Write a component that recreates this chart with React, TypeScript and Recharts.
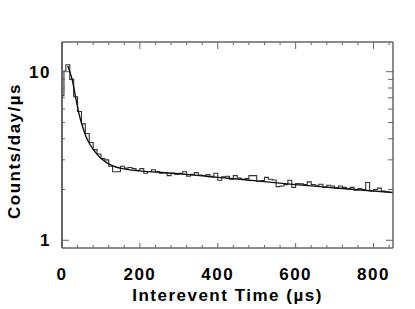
import { ComposedChart, Line, XAxis, YAxis } from 'recharts'

// histogram bins (start time in µs) and counts/day/µs
const binStart = [
  0, 5, 10, 20, 30, 40, 50, 60, 70, 80, 90, 100, 110, 120, 130, 140, 150, 160, 170, 180,
  190, 200, 210, 220, 230, 240, 250, 260, 270, 280, 290, 300, 310, 320, 330, 340, 350, 360,
  370, 380, 390, 400, 410, 420, 430, 440, 450, 460, 470, 480, 490, 500, 510, 520, 530, 540,
  550, 560, 570, 580, 590, 600, 610, 620, 630, 640, 650, 660, 670, 680, 690, 700, 710, 720,
  730, 740, 750, 760, 770, 780, 790, 800, 810, 820, 830, 840, 850,
]
const counts = [
  7.2, 10.1, 11.0, 9.0, 7.1, 5.8, 4.9, 4.3, 3.8, 3.45, 3.25, 3.05, 3.0, 2.75, 2.55, 2.55, 2.75, 2.68, 2.7, 2.66,
  2.6, 2.66, 2.5, 2.56, 2.62, 2.55, 2.5, 2.52, 2.42, 2.5, 2.46, 2.5, 2.55, 2.4, 2.46, 2.52, 2.44, 2.42,
  2.45, 2.4, 2.5, 2.27, 2.38, 2.4, 2.3, 2.42, 2.34, 2.3, 2.32, 2.42, 2.42, 2.24, 2.26, 2.36, 2.3, 2.28,
  2.08, 2.1, 2.14, 2.27, 2.06, 2.17, 2.16, 2.14, 2.22, 2.14, 2.12, 2.15, 2.06, 2.12, 2.1, 2.04, 2.1, 2.06,
  2.02, 2.06, 1.98, 2.03, 2.0, 2.2, 1.96, 2.0, 2.04, 1.96, 1.94, 1.92, 1.92,
]

// fitted curve
const fitTime = [15, 20, 26, 35, 43, 52, 61, 72, 86, 100, 112, 125, 138, 160, 198, 250, 300, 353, 400, 450, 525, 600, 697, 775, 850]
const fitValue = [10.8, 10.0, 9.0, 7.05, 5.7, 4.8, 4.16, 3.7, 3.32, 3.07, 2.92, 2.8, 2.72, 2.65, 2.58, 2.53, 2.48, 2.42, 2.36, 2.31, 2.22, 2.14, 2.05, 1.98, 1.92]

const xTicks = [0, 40, 80, 120, 160, 200, 240, 280, 320, 360, 400, 440, 480, 520, 560, 600, 640, 680, 720, 760, 800, 840]
const xLabels = [0, 200, 400, 600, 800]
const yTicks = [1, 2, 3, 4, 5, 6, 7, 8, 9, 10]
const yLabels = [1, 10]

const hist = binStart.map((t, i) => ({ t, v: counts[i] }))
const fit = fitTime.map((t, i) => ({ t, v: fitValue[i] }))

const FONT = '"Liberation Sans", Arial, sans-serif'
const AXIS = '#666'

const textStyle = {
  fontFamily: FONT,
  fontWeight: 700,
  fontSize: 17,
  letterSpacing: 1.5,
  fill: '#000',
}

const BottomTick = ({ x, y, payload }: any) => {
  const major = xLabels.includes(payload.value)
  return (
    <g>
      <line x1={x} x2={x} y1={y} y2={y - (major ? 5 : 3)} stroke={AXIS} />
      {major && (
        <text x={x} y={y + 32} textAnchor="middle" style={textStyle}>
          {payload.value}
        </text>
      )}
    </g>
  )
}

const TopTick = ({ x, y, payload }: any) => {
  const major = xLabels.includes(payload.value)
  return <line x1={x} x2={x} y1={y} y2={y + (major ? 7 : 3)} stroke={AXIS} />
}

const LeftTick = ({ x, y, payload }: any) => {
  const major = yLabels.includes(payload.value)
  return (
    <g>
      <line x1={x} x2={x + (major ? 7 : 3)} y1={y} y2={y} stroke={AXIS} />
      {major && (
        <text x={x - 11} y={y + 6} textAnchor="end" style={textStyle}>
          {payload.value}
        </text>
      )}
    </g>
  )
}

const RightTick = ({ x, y, payload }: any) => {
  const major = yLabels.includes(payload.value)
  return <line x1={x} x2={x - (major ? 7 : 5)} y1={y} y2={y} stroke={AXIS} />
}

const XTitle = ({ viewBox }: any) => (
  <text x={viewBox.x + viewBox.width / 2} y={viewBox.y + 53} textAnchor="middle" style={textStyle}>
    Interevent Time (µs)
  </text>
)

const YTitle = () => (
  <text x={14.5} y={151} transform="rotate(-90, 14.5, 151)" textAnchor="middle" dominantBaseline="central" style={textStyle}>
    Counts/day/µs
  </text>
)

export default function App() {
  return (
    <div style={{ position: 'absolute', left: 0, top: 0, width: 415, height: 309, background: '#fff' }}>
      <ComposedChart width={415} height={309} margin={{ top: 0, right: 0, bottom: 0, left: 0 }}>
        <XAxis
          xAxisId="bottom"
          type="number"
          dataKey="t"
          domain={[0, 850]}
          allowDataOverflow
          ticks={xTicks}
          interval={0}
          height={61}
          tickSize={0}
          tickMargin={0}
          tick={<BottomTick />}
          axisLine={{ stroke: AXIS, strokeWidth: 1.5 }}
          label={{ content: <XTitle /> }}
        />
        <XAxis
          xAxisId="top"
          orientation="top"
          type="number"
          dataKey="t"
          domain={[0, 850]}
          allowDataOverflow
          ticks={xTicks}
          interval={0}
          height={42}
          tickSize={0}
          tickMargin={0}
          tick={<TopTick />}
          axisLine={{ stroke: AXIS, strokeWidth: 1.5 }}
        />
        <YAxis
          yAxisId="left"
          scale="log"
          domain={[0.9, 15]}
          allowDataOverflow
          ticks={yTicks}
          interval={0}
          width={62}
          tickSize={0}
          tickMargin={0}
          tick={<LeftTick />}
          axisLine={{ stroke: '#333', strokeWidth: 1.5 }}
          label={{ content: <YTitle /> }}
        />
        <YAxis
          yAxisId="right"
          orientation="right"
          scale="log"
          domain={[0.9, 15]}
          allowDataOverflow
          ticks={yTicks}
          interval={0}
          width={22}
          tickSize={0}
          tickMargin={0}
          tick={<RightTick />}
          axisLine={{ stroke: AXIS, strokeWidth: 1.5 }}
        />
        <Line
          xAxisId="bottom"
          yAxisId="left"
          data={hist}
          dataKey="v"
          type="stepAfter"
          stroke="#333"
          strokeWidth={1.1}
          dot={false}
          isAnimationActive={false}
        />
        <Line
          xAxisId="bottom"
          yAxisId="left"
          data={fit}
          dataKey="v"
          type="monotone"
          stroke="#111"
          strokeWidth={1.4}
          dot={false}
          isAnimationActive={false}
        />
      </ComposedChart>
    </div>
  )
}
